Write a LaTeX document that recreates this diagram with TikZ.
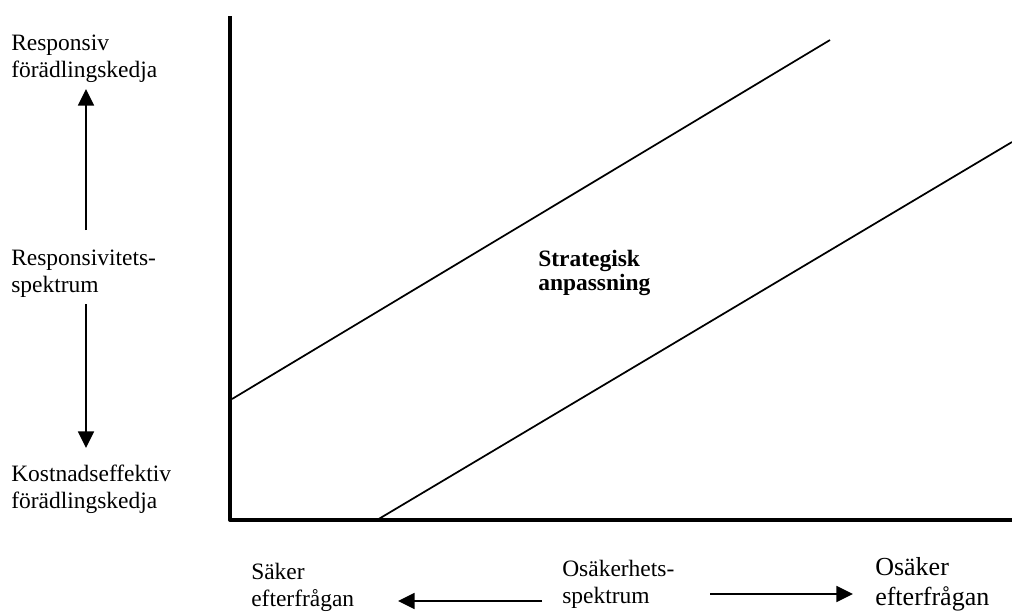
\documentclass[tikz,border=0pt]{standalone}
\usepackage{fontspec}
\setmainfont{Liberation Serif}
\usetikzlibrary{arrows.meta}
\begin{document}
\begin{tikzpicture}[x=0.75pt,y=-0.75pt,
  lbl/.style={anchor=base west,inner sep=0pt,align=left,font=\fontsize{17.6}{20.25}\selectfont},
  biglbl/.style={anchor=base west,inner sep=0pt,align=left,font=\fontsize{19.5}{22.5}\selectfont},
  boldlbl/.style={anchor=base west,inner sep=0pt,align=left,font=\fontsize{17.6}{18}\selectfont\bfseries},
  axis/.style={line width=3pt,line join=round},
  fitline/.style={line width=1.3pt},
  spec/.style={line width=1.3pt,-{Triangle[width=12pt,length=12.5pt]}}]
\useasboundingbox (0,0) rectangle (1012,612);

% axes
\coordinate (ytop) at (230,16);
\coordinate (origin) at (230,520);
\coordinate (xend) at (1012,520);
\draw[axis] (ytop) -- (origin) -- (xend);

% zone of strategic fit
\coordinate (u1) at (232,399);
\coordinate (u2) at (830,40);
\coordinate (l1) at (377,520);
\coordinate (l2) at (1012,142);
\draw[fitline] (u1) -- (u2);
\draw[fitline] (l1) -- (l2);
% multi-line nodes: the base anchor sits on the last line
\node[boldlbl] (fit) at (538,290) {Strategisk\\anpassning};

% vertical spectrum
\node[lbl] (resp) at (11,77) {Responsiv\\förädlingskedja};
\node[lbl] (rspec) at (11,292) {Responsivitets-\\spektrum};
\node[lbl] (cost) at (11,508) {Kostnadseffektiv\\förädlingskedja};
\coordinate (vupS) at (86,230);
\coordinate (vupE) at (86,89);
\coordinate (vdnS) at (86,304);
\coordinate (vdnE) at (86,448);
\draw[spec] (vupS) -- (vupE);
\draw[spec] (vdnS) -- (vdnE);

% horizontal spectrum
\node[lbl] (safe) at (251,606) {Säker\\efterfrågan};
\node[lbl] (uspec) at (562,603) {Osäkerhets-\\spektrum};
\node[biglbl] (unsafe) at (875,605) {Osäker\\efterfrågan};
\coordinate (hlS) at (542,601);
\coordinate (hlE) at (398,601);
\coordinate (hrS) at (710,594);
\coordinate (hrE) at (853,594);
\draw[spec] (hlS) -- (hlE);
\draw[spec] (hrS) -- (hrE);
\end{tikzpicture}
\end{document}
